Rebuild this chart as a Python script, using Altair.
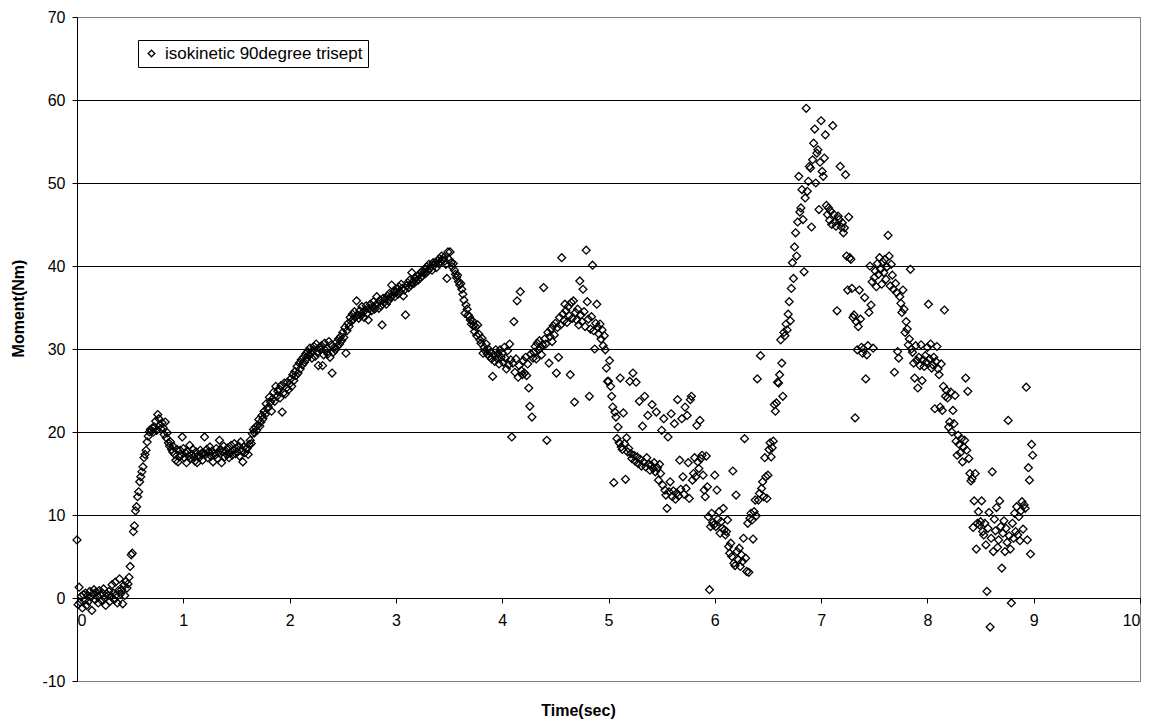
import altair as alt
import pandas as pd

# Moment (Nm) sampled every 0.01 s, one list per second of recording
m0 = [7.0, -0.8, 1.3, -0.5, 0.2, -1.2, 0.4, -0.3, 0.6, -0.9,
      0.3, -0.4, 0.8, 0.1, -1.5, 0.5, 1.0, -0.2, 0.7, 0.2,
      -0.6, 0.9, 0.4, -0.3, 0.6, 1.1, 0.0, -0.9, 0.5, 0.3,
      0.8, -0.4, 0.2, 1.6, 0.6, -0.2, 1.9, 0.4, -0.6, 0.9,
      2.3, 0.5, 1.0, -0.7, 1.5, 0.3, 2.0, 1.2, 1.7, 2.5,
      3.8, 5.2, 5.4, 8.0, 8.7, 10.5, 11.0, 12.2, 12.8, 14.0,
      14.6, 15.2, 15.8, 16.9, 17.3, 17.8, 18.8, 19.5, 20.0, 20.3,
      20.1, 20.5, 20.0, 20.6, 21.3, 20.2, 22.1, 21.6, 20.8, 20.4,
      21.1, 20.5, 19.7, 21.2, 19.3, 19.9, 18.7, 18.3, 18.8, 17.9,
      17.6, 18.2, 17.3, 16.6, 17.9, 16.4, 17.0, 17.8, 17.2, 19.4]
m1 = [18.0, 16.9, 17.5, 16.3, 17.7, 17.1, 18.4, 16.8, 17.3, 17.9,
      17.0, 16.5, 17.6, 16.3, 17.2, 16.9, 17.8, 17.4, 16.6, 17.5,
      19.4, 17.3, 17.9, 16.9, 17.6, 18.2, 17.1, 17.7, 16.4, 17.4,
      17.2, 18.0, 16.8, 17.5, 19.0, 17.9, 16.3, 17.6, 18.3, 17.0,
      17.7, 17.3, 18.1, 16.9, 17.5, 18.4, 17.2, 17.8, 18.6, 17.4,
      18.0, 17.6, 18.3, 17.1, 18.8, 17.7, 16.4, 18.2, 17.5, 18.0,
      18.0, 17.3, 18.5, 19.0, 18.6, 19.8, 20.3, 19.9, 20.6, 20.2,
      20.8, 21.5, 20.7, 21.2, 22.0, 21.6, 22.5, 22.1, 23.4, 22.8,
      23.0, 24.2, 23.6, 22.5, 24.0, 24.8, 23.7, 25.5, 24.3, 24.9,
      25.2, 24.1, 25.6, 22.4, 24.7, 25.9, 24.6, 25.3, 26.0, 25.1]
m2 = [25.8, 26.4, 25.5, 26.9, 26.2, 27.3, 26.8, 27.9, 27.1, 28.3,
      27.6, 28.7, 28.1, 29.0, 28.4, 29.4, 28.8, 29.7, 29.2, 30.1,
      29.5, 28.9, 29.8, 30.3, 29.1, 30.6, 29.6, 28.0, 30.2, 29.9,
      30.4, 28.0, 29.3, 30.7, 29.8, 30.1, 29.4, 30.9, 29.0, 30.5,
      27.1, 29.6, 30.2, 29.9, 30.8, 30.3, 31.2, 30.6, 31.5, 31.0,
      32.0, 31.4, 32.6, 29.5, 32.2, 33.1, 32.7, 33.8, 33.3, 34.2,
      33.6, 34.5, 33.9, 35.8, 34.1, 33.7, 34.6, 34.0, 35.1, 34.4,
      33.8, 34.7, 35.2, 34.3, 33.5, 34.9, 35.4, 34.6, 35.0, 35.7,
      34.8, 35.3, 36.3, 35.5, 34.9, 35.9, 35.2, 32.9, 36.1, 35.6,
      36.0, 35.4, 36.4, 35.8, 36.7, 36.2, 37.7, 36.5, 36.9, 36.3]
m3 = [36.8, 37.2, 36.6, 37.5, 36.9, 37.8, 37.3, 36.4, 37.1, 34.1,
      37.6, 38.0, 37.4, 38.3, 37.7, 39.2, 38.1, 37.9, 38.5, 38.2,
      38.7, 38.3, 39.0, 38.6, 39.3, 38.8, 39.2, 39.6, 39.1, 39.9,
      39.4, 40.2, 39.7, 40.0, 39.5, 40.4, 40.1, 40.4, 39.8, 40.6,
      40.3, 40.9, 40.5, 41.2, 40.7, 41.0, 40.6, 40.2, 38.5, 41.7,
      40.8, 41.7, 40.4, 39.9, 40.3, 39.5, 39.0, 38.6, 38.9, 38.1,
      37.7, 37.9, 37.2, 36.6, 35.9, 34.3, 35.3, 34.8, 34.1, 33.9,
      33.5, 33.0, 33.4, 32.8, 32.1, 32.7, 31.6, 32.9, 31.8, 31.1,
      30.7, 31.3, 29.5, 30.2, 29.8, 30.6, 29.4, 30.0, 29.1, 29.6,
      28.8, 26.7, 29.3, 28.5, 29.9, 28.9, 29.4, 28.2, 29.9, 29.0]
m4 = [29.5, 28.4, 30.2, 28.9, 27.6, 29.8, 28.1, 30.6, 28.7, 19.4,
      28.3, 33.3, 27.2, 28.8, 35.8, 26.6, 28.0, 36.9, 27.4, 26.9,
      28.6, 27.1, 29.0, 26.8, 28.2, 25.3, 23.1, 29.4, 21.8, 28.9,
      29.6, 30.3, 28.8, 30.7, 29.9, 31.0, 30.1, 29.3, 30.5, 37.4,
      31.2, 30.6, 19.0, 32.0, 28.3, 31.5, 32.4, 30.9, 32.8, 31.7,
      33.1, 27.1, 32.6, 29.0, 33.8, 32.9, 41.0, 34.2, 33.4, 35.4,
      34.6, 33.2, 35.1, 34.0, 26.9, 35.6, 33.7, 35.8, 23.6, 34.4,
      33.5, 34.8, 32.9, 38.2, 34.1, 33.3, 37.2, 34.5, 32.7, 41.9,
      35.7, 33.6, 24.3, 32.4, 33.9, 40.1, 32.2, 30.0, 33.1, 35.4,
      32.6, 31.8, 33.0, 31.2, 32.3, 30.4, 31.6, 29.9, 27.7, 26.1]
m5 = [26.1, 28.6, 25.5, 24.3, 23.0, 13.9, 22.4, 21.8, 19.2, 20.6,
      18.7, 26.5, 18.2, 17.9, 22.3, 18.6, 14.3, 19.3, 17.6, 18.0,
      26.1, 17.4, 16.8, 27.1, 17.2, 16.5, 26.0, 17.0, 16.2, 23.7,
      16.7, 15.9, 20.7, 16.4, 24.3, 15.8, 16.9, 22.0, 16.1, 15.4,
      16.0, 23.3, 15.6, 16.3, 15.2, 22.4, 15.7, 14.2, 16.1, 15.0,
      20.2, 13.6, 21.6, 13.0, 12.4, 10.8, 19.4, 12.8, 14.0, 22.2,
      12.2, 12.9, 21.0, 11.9, 12.6, 23.9, 12.3, 16.6, 13.1, 21.6,
      14.6, 12.5, 23.0, 13.2, 22.0, 16.3, 12.0, 23.9, 24.3, 14.2,
      15.0, 16.9, 14.6, 20.8, 16.4, 15.6, 21.4, 16.8, 17.2, 14.8,
      13.0, 12.2, 17.1, 13.4, 9.8, 1.0, 8.6, 10.2, 9.1, 8.8]
m6 = [14.8, 8.6, 13.0, 9.5, 10.4, 7.8, 9.2, 8.4, 10.8, 8.2,
      7.6, 8.0, 9.4, 6.2, 5.4, 6.6, 5.0, 15.3, 4.2, 3.9,
      12.4, 5.6, 4.6, 6.0, 3.8, 5.2, 4.4, 7.2, 19.2, 4.8,
      3.2, 9.0, 3.1, 9.6, 10.2, 9.4, 7.1, 10.4, 11.8, 9.9,
      26.4, 11.8, 12.6, 29.2, 13.2, 14.0, 12.2, 16.9, 14.6, 12.0,
      14.8, 17.9, 18.7, 17.0, 18.1, 18.9, 23.3, 22.5, 23.5, 26.0,
      25.9, 26.9, 31.1, 28.3, 24.3, 32.0, 31.6, 33.0, 32.3, 34.2,
      35.7, 33.4, 37.3, 40.4, 38.5, 42.3, 44.0, 41.2, 45.3, 50.8,
      46.5, 47.0, 49.2, 45.6, 39.3, 48.2, 59.0, 49.0, 50.2, 52.0,
      51.8, 44.7, 52.8, 54.8, 56.5, 50.0, 53.6, 54.0, 46.8, 52.5]
m7 = [57.5, 51.4, 50.8, 53.0, 55.8, 47.3, 46.2, 47.0, 45.5, 46.6,
      45.0, 56.9, 46.2, 45.3, 44.8, 34.6, 46.0, 45.6, 52.0, 44.7,
      45.2, 44.0, 44.6, 51.0, 41.2, 37.1, 45.9, 41.0, 40.8, 37.3,
      33.8, 34.1, 21.7, 33.3, 29.9, 32.7, 37.1, 33.6, 30.2, 29.5,
      30.0, 36.2, 26.4, 29.3, 30.4, 34.4, 40.0, 35.3, 38.1, 30.1,
      38.6, 39.4, 37.5, 40.3, 39.0, 41.0, 39.6, 37.8, 40.5, 39.2,
      40.8, 38.4, 39.9, 43.7, 41.2, 37.6, 40.2, 38.9, 37.2, 27.2,
      37.9, 36.8, 29.7, 28.9, 36.3, 35.5, 34.4, 37.1, 34.8, 32.0,
      33.3, 32.4, 30.5, 31.2, 39.6, 30.0, 29.6, 28.3, 26.5, 30.4,
      28.6, 25.3, 29.0, 28.0, 30.5, 26.2, 28.7, 27.9, 29.2, 28.4]
m8 = [30.2, 35.4, 28.8, 30.6, 27.7, 28.1, 29.0, 22.8, 28.5, 30.3,
      27.6, 26.9, 23.0, 28.2, 22.6, 25.5, 34.7, 24.3, 25.0, 24.1,
      20.6, 21.2, 24.8, 20.0, 22.6, 21.0, 24.4, 18.9, 17.2, 19.6,
      18.5, 17.5, 19.2, 16.4, 18.2, 19.0, 26.5, 17.8, 24.9, 16.8,
      15.0, 14.1, 14.4, 8.5, 11.7, 15.0, 5.9, 9.0, 10.4, 8.8,
      9.2, 11.7, 8.0, 7.6, 9.0, 6.4, 0.8, 8.4, 10.3, -3.5,
      7.2, 15.2, 5.6, 9.5, 8.1, 10.9, 6.1, 7.0, 11.7, 8.6,
      3.6, 7.8, 9.3, 5.6, 8.4, 6.7, 21.4, 7.5, 5.9, -0.6,
      9.0, 7.2, 10.2, 8.0, 11.0, 7.6, 9.8, 6.9, 10.5, 11.6,
      8.3, 11.2, 10.8, 25.4, 7.0, 15.7, 14.2, 5.3, 18.5, 17.2]

sample_step = 0.01
series_name = "isokinetic 90degree trisept"
x_ticks = [0, 1, 2, 3, 4, 5, 6, 7, 8, 9, 10]
y_ticks = [-10, 0, 10, 20, 30, 40, 50, 60, 70]

moment = m0 + m1 + m2 + m3 + m4 + m5 + m6 + m7 + m8
time = [round(i * sample_step, 2) for i in range(len(moment))]
df = pd.DataFrame({"time": time, "moment": moment, "series": series_name})

FONT = "Liberation Sans"

chart = alt.Chart(df).mark_point(
    shape="diamond", filled=False, size=62, strokeWidth=1.3, opacity=1, color="black"
).encode(
    x=alt.X("time:Q",
            scale=alt.Scale(domain=[0, 10], nice=False, zero=False),
            axis=alt.Axis(values=x_ticks, grid=False, offset=-83, tickSize=5,
                          labelPadding=9, labelExpr="'' + datum.value",
                          title="Time(sec)", titleX=501, titleY=112,
                          titleAlign="center", titleBaseline="middle")),
    y=alt.Y("moment:Q",
            scale=alt.Scale(domain=[-10, 70], nice=False, zero=False),
            axis=alt.Axis(values=y_ticks, grid=True, tickSize=5, labelPadding=7,
                          labelExpr="'' + datum.value",
                          gridColor={"condition": {"test": "datum.value == 70 || datum.value == -10",
                                                   "value": "#808080"},
                                     "value": "black"},
                          title="Moment(Nm)", titleX=-59, titleY=291, titleAngle=270,
                          titleAlign="center", titleBaseline="middle")),
    color=alt.Color("series:N",
                    scale=alt.Scale(domain=[series_name], range=["black"]),
                    legend=alt.Legend(title=None, orient="none", legendX=61, legendY=23,
                                      padding=5, strokeColor="black", fillColor="white",
                                      symbolType="diamond", symbolSize=44,
                                      symbolStrokeWidth=1.3, symbolFillColor="white",
                                      symbolStrokeColor="black", labelOffset=5,
                                      labelFont=FONT, labelFontSize=17, labelColor="black",
                                      labelLimit=400)),
).properties(
    width=1063, height=664,
    autosize=alt.AutoSizeParams(type="none"),
    padding={"left": 77, "top": 17, "right": 18, "bottom": 44},
).configure_view(
    stroke="#808080", strokeWidth=1
).configure_axis(
    labelFont=FONT, labelFontSize=16, labelColor="black",
    titleFont=FONT, titleFontSize=16, titleFontWeight="bold", titleColor="black",
    domainColor="black", tickColor="black", gridWidth=1, gridOpacity=1
)

chart.save("out.html", embed_options={"renderer": "svg", "actions": False})
